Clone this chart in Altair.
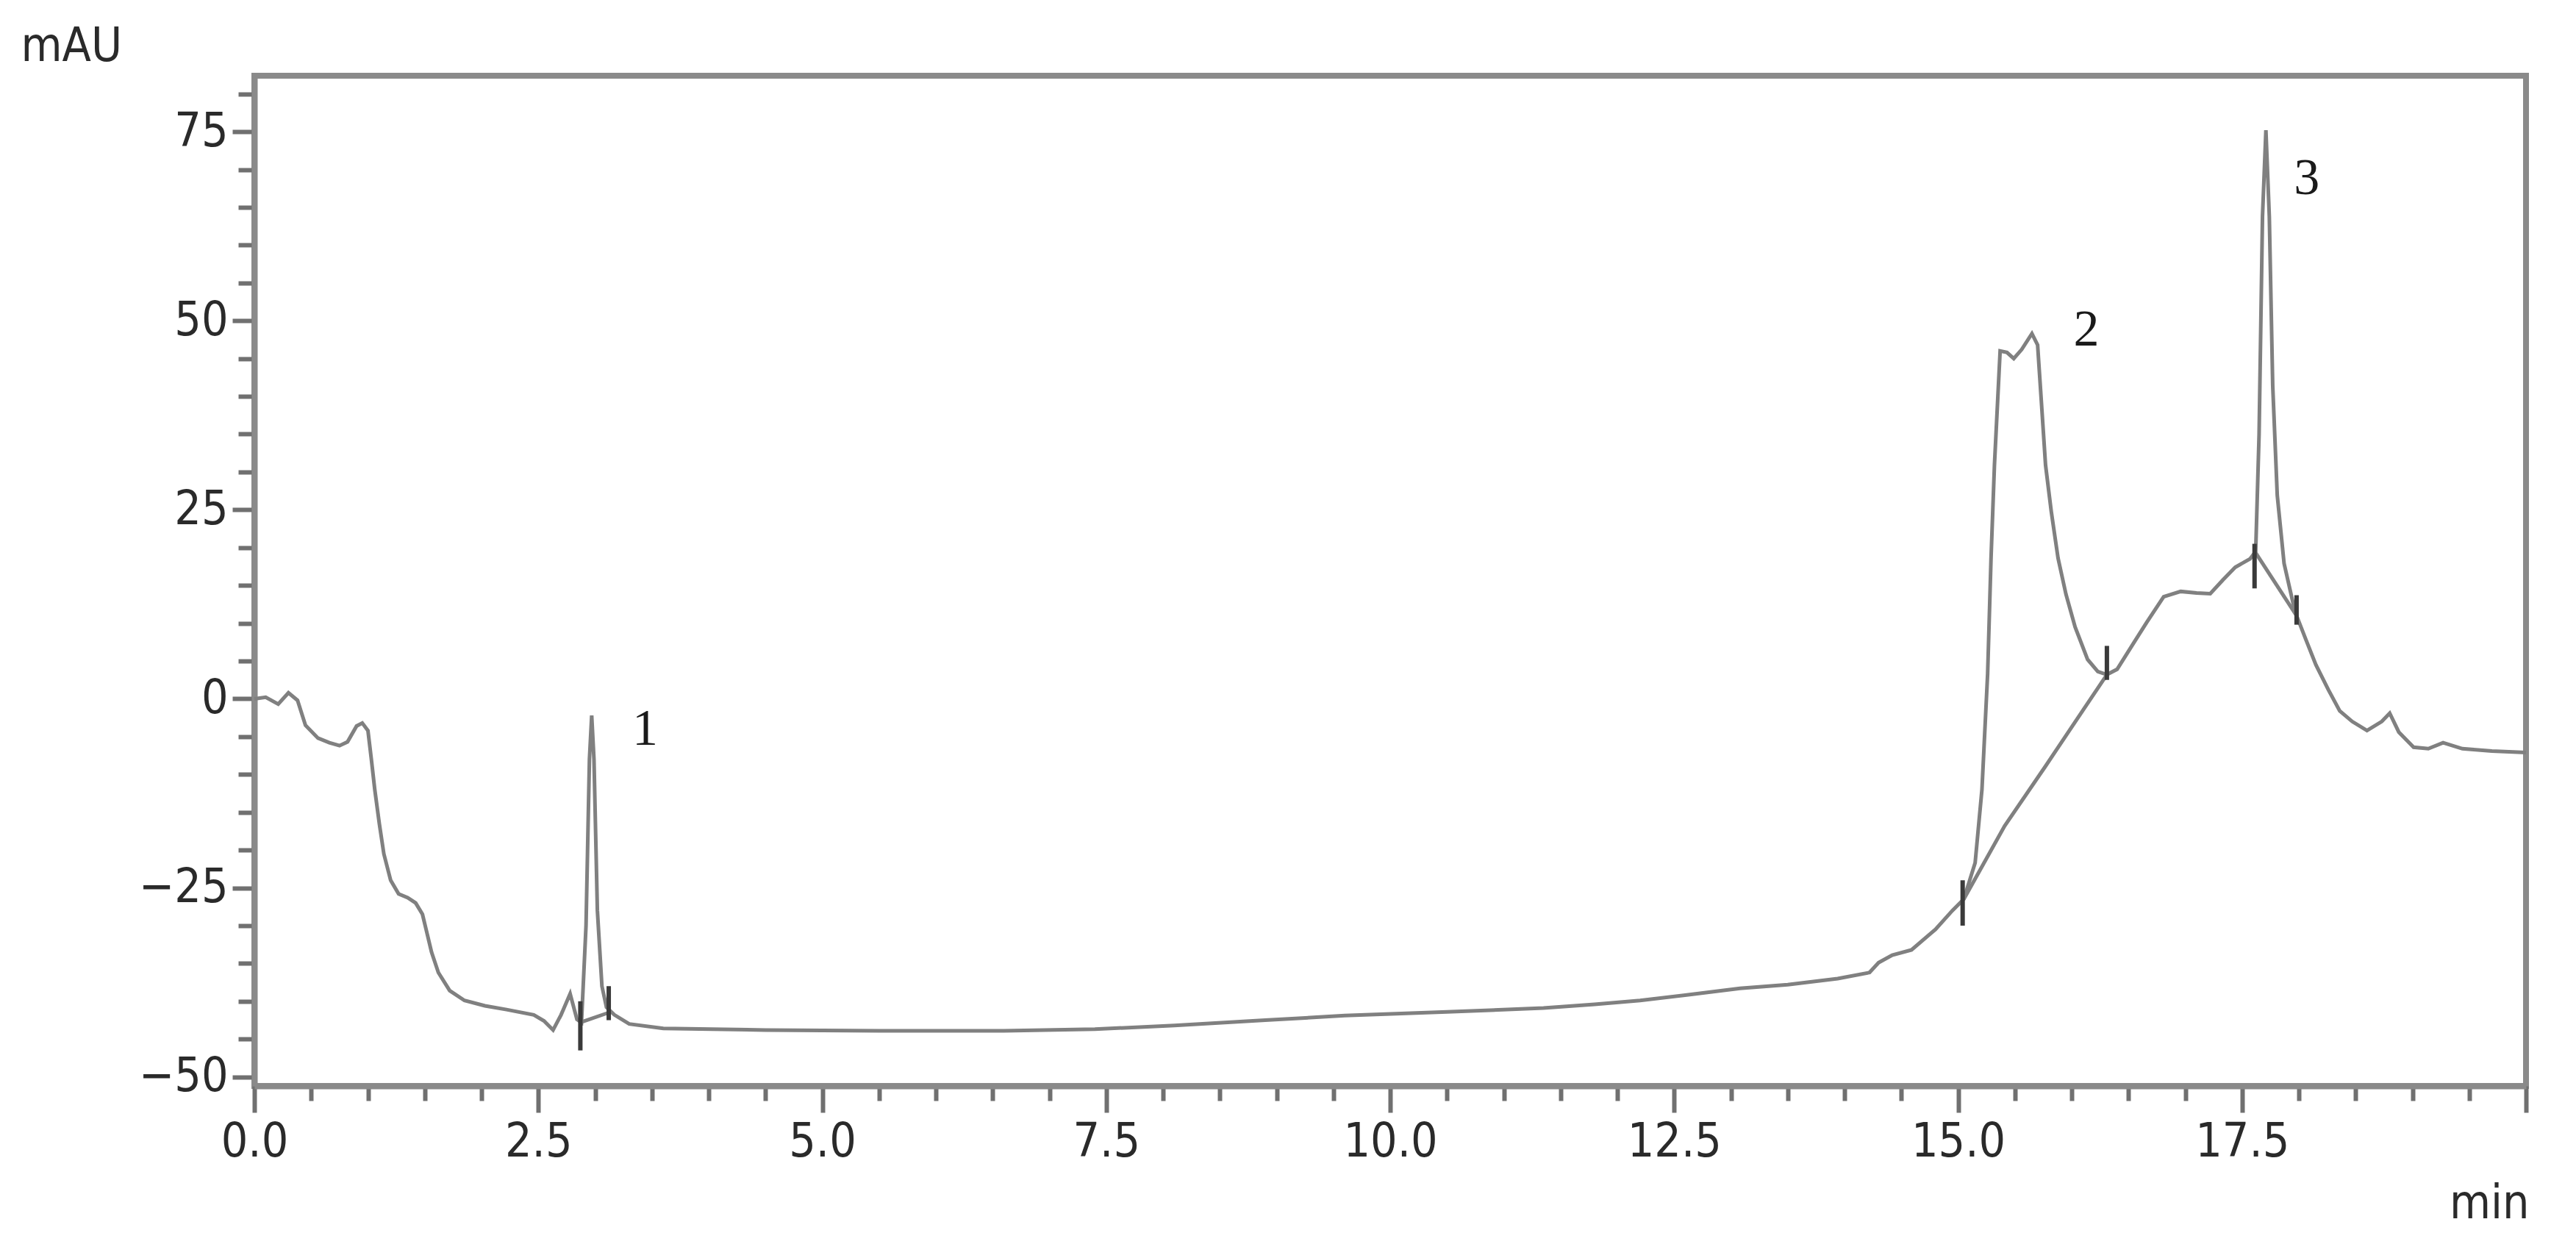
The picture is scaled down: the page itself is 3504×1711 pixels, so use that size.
import altair as alt
import pandas as pd

# ---- chromatogram trace (time in min, signal in mAU) ----
trace_t = [0.00, 0.10, 0.21, 0.30, 0.38, 0.45, 0.56, 0.66, 0.75, 0.82, 0.90, 0.95, 1.00,
           1.03, 1.06, 1.10, 1.14, 1.20, 1.27, 1.35, 1.42, 1.48, 1.52, 1.56, 1.62, 1.72,
           1.85, 2.03, 2.22, 2.46, 2.55, 2.63, 2.70, 2.78, 2.84, 2.88, 2.92, 2.95, 2.97,
           2.99, 3.02, 3.06, 3.10, 3.17, 3.30, 3.60, 4.50, 5.50, 6.60, 7.40, 8.10, 8.90,
           9.60, 10.50, 11.35, 11.80, 12.20, 12.65, 13.08, 13.50, 13.94, 14.22, 14.30,
           14.42, 14.59, 14.80, 14.95, 15.05, 15.15, 15.21, 15.26, 15.29, 15.32, 15.37,
           15.43, 15.49, 15.56, 15.65, 15.70, 15.73, 15.77, 15.82, 15.88, 15.95, 16.03,
           16.14, 16.23, 16.31, 16.40, 16.53, 16.66, 16.81, 16.96, 17.10, 17.22, 17.33,
           17.44, 17.57, 17.62, 17.65, 17.68, 17.71, 17.74, 17.77, 17.81, 17.87, 17.95,
           17.98, 18.06, 18.15, 18.26, 18.36, 18.47, 18.60, 18.73, 18.80, 18.88, 19.01,
           19.14, 19.27, 19.44, 19.70, 20.00]
trace_v = [0.0, 0.2, -0.7, 0.8, -0.2, -3.5, -5.2, -5.8, -6.2, -5.7, -3.6, -3.2, -4.2,
           -8.0, -12.0, -16.5, -20.5, -24.0, -25.8, -26.3, -27.0, -28.5, -31.0, -33.5, -36.2, -38.6,
           -39.9, -40.6, -41.1, -41.8, -42.6, -43.8, -41.8, -39.0, -42.4, -42.8, -30.0, -8.0, -2.2,
           -8.0, -28.0, -38.0, -40.8, -41.8, -43.0, -43.6, -43.8, -43.9, -43.9, -43.7, -43.2, -42.5,
           -41.9, -41.4, -40.9, -40.4, -39.9, -39.1, -38.3, -37.8, -37.0, -36.2, -34.9,
           -33.9, -33.2, -30.5, -28.0, -26.5, -21.7, -12.0, 3.3, 18.6, 30.9, 46.0,
           45.8, 45.0, 46.2, 48.3, 46.8, 40.0, 30.9, 24.8, 18.6, 13.8, 9.5,
           5.2, 3.6, 3.2, 3.9, 7.0, 10.1, 13.5, 14.2, 14.0, 13.9, 15.7,
           17.4, 18.5, 19.5, 35.0, 63.8, 75.2, 63.8, 41.4, 26.9, 17.9, 12.6,
           11.0, 7.9, 4.5, 1.2, -1.6, -3.0, -4.2, -3.0, -1.9, -4.4, -6.4,
           -6.6, -5.8, -6.6, -6.9, -7.1]

# ---- integration baselines ----
base_seg = ["p1", "p1", "p2", "p2", "p2", "p2", "p2", "p3", "p3"]
base_t = [2.87, 3.12, 15.05, 15.41, 15.77, 16.10, 16.31, 17.62, 17.98]
base_v = [-42.8, -41.5, -26.5, -16.8, -8.9, -1.5, 3.2, 19.3, 11.0]

# ---- peak start / end markers ----
mark_t = [2.87, 3.12, 15.04, 16.31, 17.61, 17.98]
mark_lo = [-46.5, -42.5, -30.0, 2.5, 14.6, 9.8]
mark_hi = [-40.0, -38.0, -24.0, 7.0, 20.5, 13.7]

# ---- peak numbers ----
label_t = [3.44, 16.13, 18.07]
label_v = [-4.0, 48.8, 68.8]
label_text = ["1", "2", "3"]

# ---- axes ----
x_ticks = [i * 0.5 for i in range(41)]
y_ticks = list(range(-50, 81, 5))
x_domain = [0, 20]
y_domain = [-51.2, 82.4]

trace_df = pd.DataFrame({"t": trace_t, "v": trace_v})
base_df = pd.DataFrame({"seg": base_seg, "t": base_t, "v": base_v})
mark_df = pd.DataFrame({"t": mark_t, "lo": mark_lo, "hi": mark_hi})
label_df = pd.DataFrame({"t": label_t, "v": label_v, "txt": label_text})

LINE = "#808080"
FONT = "Liberation Sans Narrow, DejaVu Sans Condensed, Liberation Sans, sans-serif"

xscale = alt.Scale(domain=x_domain, nice=False, zero=False)
yscale = alt.Scale(domain=y_domain, nice=False, zero=False)

x_axis = alt.Axis(
    values=x_ticks,
    labelExpr="(abs(datum.value % 2.5) < 0.001 && datum.value < 19.9) ? format(datum.value, '.1f') : ''",
    tickSize={"condition": {"test": "abs(datum.value % 2.5) < 0.001", "value": 36}, "value": 20},
    labelPadding=8,
    title="min",
    titleX=3094, titleY=160, titleAlign="right", titleBaseline="middle",
    titleAnchor="end",
)
y_axis = alt.Axis(
    values=y_ticks,
    labelExpr="(datum.value % 25 === 0) ? format(datum.value, 'd') : ''",
    tickSize={"condition": {"test": "datum.value % 25 === 0", "value": 30}, "value": 22},
    labelPadding=6,
    title="mAU",
    titleAngle=0, titleX=-318, titleY=-40, titleAlign="left", titleBaseline="middle",
)

trace = alt.Chart(trace_df).mark_line(color=LINE, strokeWidth=5).encode(
    x=alt.X("t:Q", scale=xscale, axis=x_axis),
    y=alt.Y("v:Q", scale=yscale, axis=y_axis),
    order="t:Q",
)

base = alt.Chart(base_df).mark_line(color=LINE, strokeWidth=5).encode(
    x=alt.X("t:Q", scale=xscale),
    y=alt.Y("v:Q", scale=yscale),
    detail="seg:N",
)

marks = alt.Chart(mark_df).mark_rule(color="#3a3a3a", strokeWidth=6).encode(
    x=alt.X("t:Q", scale=xscale),
    y=alt.Y("lo:Q", scale=yscale),
    y2="hi:Q",
)

labels = alt.Chart(label_df).mark_text(
    font="Liberation Serif", fontSize=70, color="#1a1a1a", align="center", baseline="middle"
).encode(
    x=alt.X("t:Q", scale=xscale),
    y=alt.Y("v:Q", scale=yscale),
    text="txt:N",
)

chart = alt.layer(trace, base, marks, labels).properties(
    width=3090,
    height=1374,
    padding={"left": 338, "top": 95, "right": 40, "bottom": 220},
    autosize=alt.AutoSizeParams(type="none"),
    background="white",
).configure_view(
    stroke="#8a8a8a", strokeWidth=8
).configure_axis(
    grid=False,
    domainColor="#8a8a8a",
    domainWidth=8,
    tickColor="#707070",
    tickWidth=6,
    labelFont=FONT,
    labelFontSize=64,
    labelColor="#2a2a2a",
    labelOverlap=False,
    labelFlush=False,
    titleFont=FONT,
    titleFontSize=64,
    titleFontWeight="normal",
    titleColor="#2a2a2a",
)

chart.save("out.html", embed_options={"renderer": "svg", "actions": False})
